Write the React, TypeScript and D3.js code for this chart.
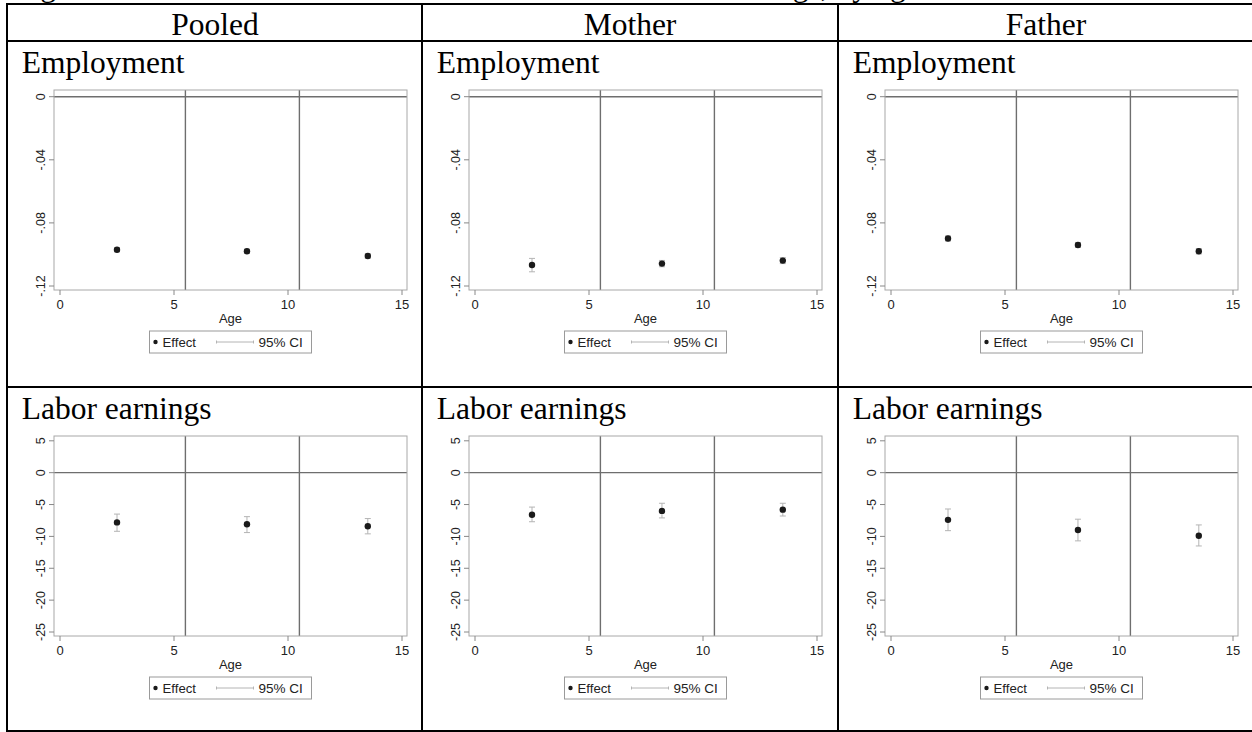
import React from "react";
import { scaleLinear } from "d3";

// ages where effects are plotted
const ages = [2.5, 8.2, 13.5];
const cutoffs = [5.5, 10.5];

const columns = ["Pooled", "Mother", "Father"];
const rowTitles = ["Employment", "Labor earnings"];

const empTicks = [0, -0.04, -0.08, -0.12];
const earnTicks = [5, 0, -5, -10, -15, -20, -25];
const ageTicks = [0, 5, 10, 15];

// employment effects (point, lower, upper)
const empPooled = [-0.097, -0.098, -0.101];
const empPooledLo = [-0.0983, -0.0993, -0.1024];
const empPooledHi = [-0.0957, -0.0967, -0.0996];
const empMother = [-0.1067, -0.1058, -0.1039];
const empMotherLo = [-0.111, -0.1078, -0.1058];
const empMotherHi = [-0.1025, -0.1038, -0.102];
const empFather = [-0.0899, -0.094, -0.098];
const empFatherLo = [-0.0915, -0.0956, -0.0997];
const empFatherHi = [-0.0883, -0.0924, -0.0963];

// labor earnings effects
const earnPooled = [-7.8, -8.1, -8.4];
const earnPooledLo = [-9.2, -9.4, -9.6];
const earnPooledHi = [-6.5, -6.9, -7.2];
const earnMother = [-6.6, -6.0, -5.8];
const earnMotherLo = [-7.7, -7.1, -6.8];
const earnMotherHi = [-5.4, -4.8, -4.8];
const earnFather = [-7.4, -9.0, -9.9];
const earnFatherLo = [-9.1, -10.7, -11.5];
const earnFatherHi = [-5.7, -7.3, -8.2];

const empSeries = [
  { est: empPooled, lo: empPooledLo, hi: empPooledHi },
  { est: empMother, lo: empMotherLo, hi: empMotherHi },
  { est: empFather, lo: empFatherLo, hi: empFatherHi },
];
const earnSeries = [
  { est: earnPooled, lo: earnPooledLo, hi: earnPooledHi },
  { est: earnMother, lo: earnMotherLo, hi: earnMotherHi },
  { est: earnFather, lo: earnFatherLo, hi: earnFatherHi },
];

const W = 1252;
const H = 732;
const colX = [7, 422, 838];
const colW = 416;
const rowY = [41, 387];
const serif = "'Liberation Serif', 'Times New Roman', serif";
const sans = "'Liberation Sans', Arial, Helvetica, sans-serif";

const fmtTick = (v: number) =>
  v === 0 ? "0" : String(v).replace("0.", ".");

interface PlotProps {
  x0: number;
  y0: number;
  ticks: number[];
  est: number[];
  lo: number[];
  hi: number[];
  topPx: number;
}

const Plot = ({ x0, y0, ticks, est, lo, hi, topPx }: PlotProps) => {
  const left = x0 + 47;
  const right = x0 + 400;
  const top = y0 + 49;
  const bottom = y0 + 249;

  const x = scaleLinear().domain([0, 15]).range([x0 + 53, x0 + 395]);
  const y = scaleLinear()
    .domain([ticks[ticks.length - 1], ticks[0]])
    .range([y0 + 245, y0 + topPx]);

  const cx = (left + right) / 2;
  const lgX = cx - 81;
  const lgY = bottom + 41;
  const lgH = 22;
  const lgMid = lgY + lgH / 2;

  return (
    <g>
      {/* reference lines */}
      {cutoffs.map((c) => (
        <line
          key={c}
          x1={x(c)}
          x2={x(c)}
          y1={top}
          y2={bottom}
          stroke="#6e6e6e"
          strokeWidth={1.4}
        />
      ))}
      <line
        x1={left}
        x2={right}
        y1={y(0)}
        y2={y(0)}
        stroke="#6e6e6e"
        strokeWidth={1.4}
      />
      <rect
        x={left}
        y={top}
        width={right - left}
        height={bottom - top}
        fill="none"
        stroke="#a8a8a8"
        strokeWidth={1}
      />

      {/* y axis */}
      {ticks.map((t) => (
        <g key={t}>
          <line
            x1={left - 5}
            x2={left}
            y1={y(t)}
            y2={y(t)}
            stroke="#888"
          />
          <text
            transform={`translate(${left - 13},${y(t)}) rotate(-90)`}
            textAnchor="middle"
            dominantBaseline="central"
            fontFamily={sans}
            fontSize={12.5}
            fill="#222"
          >
            {fmtTick(t)}
          </text>
        </g>
      ))}

      {/* x axis */}
      {ageTicks.map((t) => (
        <g key={t}>
          <line
            x1={x(t)}
            x2={x(t)}
            y1={bottom}
            y2={bottom + 5}
            stroke="#888"
          />
          <text
            x={x(t)}
            y={bottom + 18.5}
            textAnchor="middle"
            fontFamily={sans}
            fontSize={13}
            fill="#222"
          >
            {t}
          </text>
        </g>
      ))}
      <text
        x={cx}
        y={bottom + 32.5}
        textAnchor="middle"
        fontFamily={sans}
        fontSize={13}
        fill="#222"
      >
        Age
      </text>

      {/* confidence intervals */}
      {ages.map((a, i) => (
        <g key={"ci" + a} stroke="#b4b4b4" strokeWidth={1}>
          <line x1={x(a)} x2={x(a)} y1={y(lo[i])} y2={y(hi[i])} />
          <line x1={x(a) - 3} x2={x(a) + 3} y1={y(lo[i])} y2={y(lo[i])} />
          <line x1={x(a) - 3} x2={x(a) + 3} y1={y(hi[i])} y2={y(hi[i])} />
        </g>
      ))}
      {ages.map((a, i) => (
        <circle key={"pt" + a} cx={x(a)} cy={y(est[i])} r={3.2} fill="#1a1a1a" />
      ))}

      {/* legend */}
      <rect
        x={lgX}
        y={lgY}
        width={162}
        height={lgH}
        fill="#fff"
        stroke="#9a9a9a"
        strokeWidth={1}
      />
      <circle cx={lgX + 6} cy={lgMid} r={2.2} fill="#1a1a1a" />
      <text
        x={lgX + 13}
        y={lgMid + 4.5}
        fontFamily={sans}
        fontSize={13.2}
        fill="#222"
      >
        Effect
      </text>
      <g stroke="#b4b4b4" strokeWidth={1}>
        <line x1={lgX + 67} x2={lgX + 104} y1={lgMid} y2={lgMid} />
        <line x1={lgX + 67} x2={lgX + 67} y1={lgMid - 1.5} y2={lgMid + 1.5} />
        <line x1={lgX + 104} x2={lgX + 104} y1={lgMid - 1.5} y2={lgMid + 1.5} />
      </g>
      <text
        x={lgX + 109}
        y={lgMid + 4.5}
        fontFamily={sans}
        fontSize={13.5}
        fill="#222"
      >
        95% CI
      </text>
    </g>
  );
};

export default function App() {
  return (
    <svg
      width={W}
      height={H}
      style={{ position: "absolute", left: 0, top: 0, background: "#fff" }}
    >
      <rect width={W} height={H} fill="#fff" />
      {/* caption line, cut off at the top of the page */}
      <text x={14} y={-4} fontFamily={serif} fontSize={31.5} fill="#000">
        Figure 3: Effects of the reform on the labor market and earnings, by age
      </text>

      {/* table header */}
      {columns.map((c, i) => (
        <text
          key={c}
          x={colX[i] + colW / 2}
          y={35}
          textAnchor="middle"
          fontFamily={serif}
          fontSize={31.5}
          fill="#000"
        >
          {c}
        </text>
      ))}

      {rowTitles.map((r, ri) =>
        colX.map((cx) => (
          <text
            key={r + cx}
            x={cx + 14.7}
            y={rowY[ri] + 31.5}
            fontFamily={serif}
            fontSize={31.5}
            fill="#000"
          >
            {r}
          </text>
        ))
      )}

      {empSeries.map((s, i) => (
        <Plot
          key={"emp" + i}
          x0={colX[i]}
          y0={rowY[0]}
          ticks={empTicks}
          est={s.est}
          lo={s.lo}
          hi={s.hi}
          topPx={55.7}
        />
      ))}
      {earnSeries.map((s, i) => (
        <Plot
          key={"earn" + i}
          x0={colX[i]}
          y0={rowY[1]}
          ticks={earnTicks}
          est={s.est}
          lo={s.lo}
          hi={s.hi}
          topPx={53.8}
        />
      ))}

      {/* table rules */}
      <g stroke="#000" strokeWidth={2}>
        <line x1={6} x2={W} y1={4} y2={4} />
        <line x1={6} x2={W} y1={41} y2={41} />
        <line x1={6} x2={W} y1={387} y2={387} />
        <line x1={6} x2={W} y1={731} y2={731} />
        <line x1={7} x2={7} y1={3} y2={732} />
        <line x1={422} x2={422} y1={3} y2={732} />
        <line x1={838} x2={838} y1={3} y2={732} />
      </g>
    </svg>
  );
}
